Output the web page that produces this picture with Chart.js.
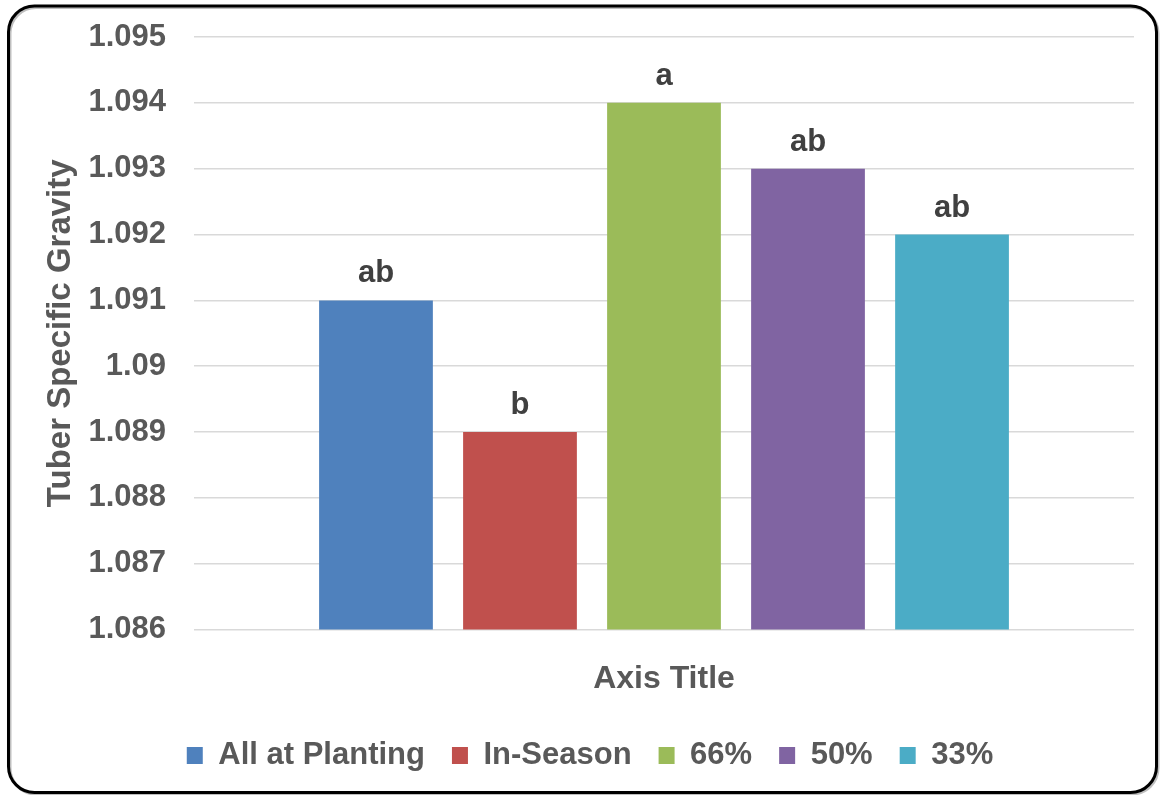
<!DOCTYPE html>
<html>
<head>
<meta charset="utf-8">
<script src="https://cdn.jsdelivr.net/npm/chart.js@4/dist/chart.umd.min.js"></script>
<style>
html,body{margin:0;padding:0;background:#fff;}
#wrap{position:relative;width:1161px;height:795px;}
</style>
</head>
<body>
<div id="wrap"><canvas id="c" width="1161" height="795"></canvas></div>
<script>
const categories = [''];
const seriesNames = ['All at Planting', 'In-Season', '66%', '50%', '33%'];
const seriesValues = [1.091, 1.089, 1.094, 1.093, 1.092];
const letterLabels = ['ab', 'b', 'a', 'ab', 'ab'];
const seriesColors = ['#4F81BD', '#C0504D', '#9BBB59', '#8064A2', '#4BACC6'];
const yTickValues = [1.086, 1.087, 1.088, 1.089, 1.090, 1.091, 1.092, 1.093, 1.094, 1.095];
const yTickLabels = ['1.086', '1.087', '1.088', '1.089', '1.09', '1.091', '1.092', '1.093', '1.094', '1.095'];
const yAxisTitle = 'Tuber Specific Gravity';
const xAxisTitle = 'Axis Title';

const FONT = "'Liberation Sans', Arial, sans-serif";

const framePlugin = {
  id: 'frame',
  beforeDraw(chart) {
    const ctx = chart.ctx;
    ctx.save();
    ctx.fillStyle = '#fff';
    ctx.fillRect(0, 0, chart.width, chart.height);
    const x = 8.5, y = 6, w = 1148, h = 786.5, r = 26;
    ctx.strokeStyle = 'rgba(0,0,0,0.25)';
    ctx.lineWidth = 3;
    ctx.beginPath();
    ctx.roundRect(x + 1.5, y + 1.5, w, h, r);
    ctx.stroke();
    ctx.strokeStyle = '#000';
    ctx.lineWidth = 3;
    ctx.beginPath();
    ctx.roundRect(x, y, w, h, r);
    ctx.stroke();
    ctx.restore();
  },
  afterLayout(chart) {
    if (chart.legend) {
      chart.legend.left += 18;
      chart.legend.right += 18;
    }
  }
};

const letterPlugin = {
  id: 'letters',
  afterDatasetsDraw(chart) {
    const ctx = chart.ctx;
    ctx.save();
    ctx.font = "bold 31px " + FONT;
    ctx.fillStyle = '#404040';
    ctx.textAlign = 'center';
    ctx.textBaseline = 'alphabetic';
    chart.data.datasets.forEach((ds, i) => {
      const meta = chart.getDatasetMeta(i);
      meta.data.forEach((bar) => {
        ctx.fillText(letterLabels[i], bar.x, bar.y - 18);
      });
    });
    ctx.restore();
  }
};

const datasets = seriesNames.map((name, i) => ({
  label: name,
  data: [seriesValues[i]],
  backgroundColor: seriesColors[i],
  borderWidth: 0,
  categoryPercentage: 0.766,
  barPercentage: 0.79
}));

new Chart(document.getElementById('c'), {
  type: 'bar',
  data: { labels: categories, datasets: datasets },
  plugins: [framePlugin, letterPlugin],
  options: {
    responsive: false,
    animation: false,
    devicePixelRatio: 1,
    layout: { padding: { left: 10, right: 27, top: 37, bottom: 14 } },
    plugins: {
      legend: {
        position: 'bottom',
        labels: {
          font: { family: FONT, size: 31, weight: 'bold' },
          color: '#595959',
          boxWidth: 16,
          boxHeight: 17,
          padding: 27
        }
      },
      tooltip: { enabled: false }
    },
    scales: {
      x: {
        grid: { display: false },
        border: { display: false },
        ticks: { display: false },
        title: {
          display: true,
          text: xAxisTitle,
          color: '#595959',
          font: { family: FONT, size: 32, weight: 'bold' },
          padding: { top: 22, bottom: 15 }
        }
      },
      y: {
        min: 1.086,
        max: 1.095,
        afterBuildTicks(scale) {
          scale.ticks = yTickValues.map(v => ({ value: v }));
        },
        afterFit(scale) {
          scale.width = 184;
          scale.paddingTop = 0;
          scale.paddingBottom = 0;
        },
        grid: { color: '#D9D9D9', lineWidth: 1.5, drawTicks: false },
        border: { display: false },
        ticks: {
          padding: 28,
          color: '#595959',
          font: { family: FONT, size: 31, weight: 'bold' },
          callback: (value, index) => yTickLabels[index]
        },
        title: {
          display: true,
          text: yAxisTitle,
          color: '#595959',
          font: { family: FONT, size: 33, weight: 'bold' },
          padding: { top: 31, bottom: 0 }
        }
      }
    }
  }
});
</script>
</body>
</html>
